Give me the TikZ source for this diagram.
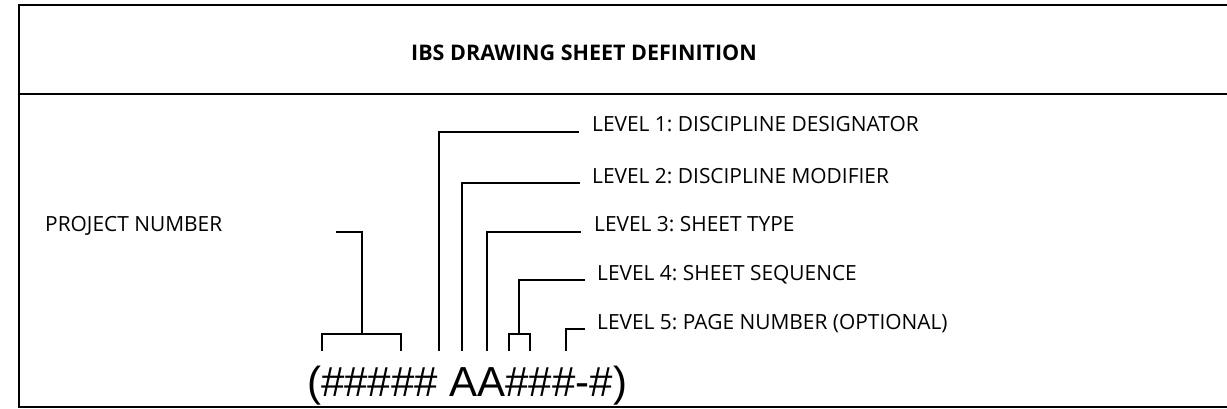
\documentclass[tikz,border=0pt]{standalone}
\usepackage{fontspec}
\setmainfont{Open Sans}
\newfontfamily\codefont{Liberation Sans}
\usetikzlibrary{positioning}
\frenchspacing

\tikzset{
  lbl/.style={anchor=base west, inner sep=0pt, font=\fontsize{20.9}{24}\selectfont},
  leader/.style={line width=1.2pt},
  frame/.style={line width=1.6pt}
}

\begin{document}
\begin{tikzpicture}[x=1pt,y=-1pt]
\useasboundingbox (0,0) rectangle (1227,409);
% sheet frame, runs off the right edge
\draw[frame] (1240,5) -- (19,5) -- (19,407) -- (1240,407);
\draw[frame] (19,94) -- (1240,94);
\node[anchor=base, inner sep=0pt, font=\bfseries\fontsize{21.5}{25}\selectfont] (title) at (584,61) {IBS DRAWING SHEET DEFINITION};

% labels
\node[lbl] (proj) at (45,232) {PROJECT NUMBER};
\node[lbl] (lvl1) at (592,132) {LEVEL 1: DISCIPLINE DESIGNATOR};
\node[lbl] (lvl2) at (592,183) {LEVEL 2: DISCIPLINE MODIFIER};
\node[lbl] (lvl3) at (594,232) {LEVEL 3: SHEET TYPE};
\node[lbl] (lvl4) at (597,280) {LEVEL 4: SHEET SEQUENCE};
\node[lbl] (lvl5) at (597,329) {LEVEL 5: PAGE NUMBER (OPTIONAL)};
\node[anchor=base west, inner sep=0pt, font=\codefont\fontsize{42}{46}\selectfont] (code) at (307,396) {(\#\#\#\#\# AA\#\#\#-\#)};

% leader ends above the code
\coordinate (pa) at (322,351);
\coordinate (pb) at (401,351);
\coordinate (pm) at (362,334);
\coordinate (pt) at (336,232);
\coordinate (d1) at (439,351);
\coordinate (d2) at (462,351);
\coordinate (d3) at (487,351);
\coordinate (sa) at (509,351);
\coordinate (sb) at (530,351);
\coordinate (sm) at (519,334);
\coordinate (pg) at (566,351);

% project number bracket
\draw[leader] (pa) -- ++(0,-17) -| (pb);
\draw[leader] (pm) |- (pt);
% level leaders
\draw[leader] (d1) |- ([xshift=-13pt]lvl1.base west);
\draw[leader] (d2) |- ([xshift=-12pt]lvl2.base west);
\draw[leader] (d3) |- ([xshift=-13pt]lvl3.base west);
\draw[leader] (sa) -- ++(0,-17) -| (sb);
\draw[leader] (sm) |- ([xshift=-12pt]lvl4.base west);
\draw[leader] (pg) |- ([xshift=-12pt]lvl5.base west);
\end{tikzpicture}
\end{document}
